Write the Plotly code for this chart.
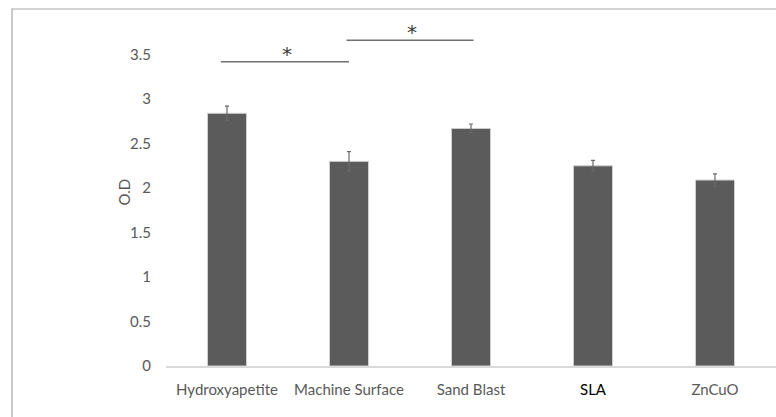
import plotly.graph_objects as go

categories = ["Hydroxyapetite", "Machine Surface", "Sand Blast", "SLA", "ZnCuO"]
od_values = [2.84, 2.30, 2.67, 2.25, 2.09]
od_errors = [0.08, 0.11, 0.05, 0.06, 0.07]
y_ticks = [0, 0.5, 1, 1.5, 2, 2.5, 3, 3.5]
y_tick_labels = ["0", "0.5", "1", "1.5", "2", "2.5", "3", "3.5"]

# significance brackets: (start position, end position, line level, star level)
sig_pairs = [(-0.05, 1.0, 3.42, 3.51), (0.98, 2.02, 3.66, 3.75)]

W, H = 776, 417
L, R, T, B = 166, 0, 19, 51

tick_text = []
for c in categories:
    if c == "SLA":
        tick_text.append("<span style='color:#000000'>%s</span>" % c)
    else:
        tick_text.append(c)

fig = go.Figure()
fig.add_trace(go.Bar(
    x=list(range(len(categories))),
    y=od_values,
    marker=dict(color="#5b5b5b", line=dict(color="#d0d0d0", width=1)),
    error_y=dict(type="data", array=od_errors, visible=True,
                 color="#6a6a6a", thickness=1.2, width=2),
    width=0.32,
))

for x0, x1, yl, ys in sig_pairs:
    fig.add_shape(type="line", xref="x", yref="y", x0=x0, x1=x1, y0=yl, y1=yl,
                  line=dict(color="#6f6f6f", width=1.5))
    fig.add_annotation(x=(x0 + x1) / 2 + 0.02, y=ys, xref="x", yref="y", text="*",
                       showarrow=False, font=dict(family="DejaVu Sans", size=20, color="#3a3a3a"),
                       yanchor="middle")

pw = W - L - R
ph = H - T - B
# outer frame (extends past right and bottom edges)
fig.add_shape(type="rect", xref="paper", yref="paper",
              x0=(12 - L) / pw, x1=1.3, y0=-0.5, y1=(H - B - 9) / ph,
              line=dict(color="#a6a6a6", width=1.2), fillcolor="rgba(0,0,0,0)", layer="below")

fig.add_annotation(xref="paper", yref="paper", x=(112 - L) / pw, y=0.5, text="O.D",
                   textangle=-90, showarrow=False,
                   font=dict(family="Lato", size=15, color="#595959"))

fig.update_layout(
    width=W, height=H,
    margin=dict(l=L, r=R, t=T, b=B, autoexpand=False),
    paper_bgcolor="white", plot_bgcolor="white",
    showlegend=False,
    font=dict(family="Lato", size=15, color="#595959"),
    xaxis=dict(range=[-0.5, 4.5], tickvals=list(range(len(categories))), ticktext=tick_text,
               showgrid=False, zeroline=False, showline=True, linecolor="#d9d9d9", linewidth=1.5,
               ticks="", ticklabelstandoff=9, fixedrange=True),
    yaxis=dict(range=[0, 3.9], tickvals=y_ticks, ticktext=y_tick_labels,
               showgrid=False, zeroline=False, showline=False, ticks="",
               ticklabelstandoff=14, fixedrange=True),
)

fig.write_html("out.html")
